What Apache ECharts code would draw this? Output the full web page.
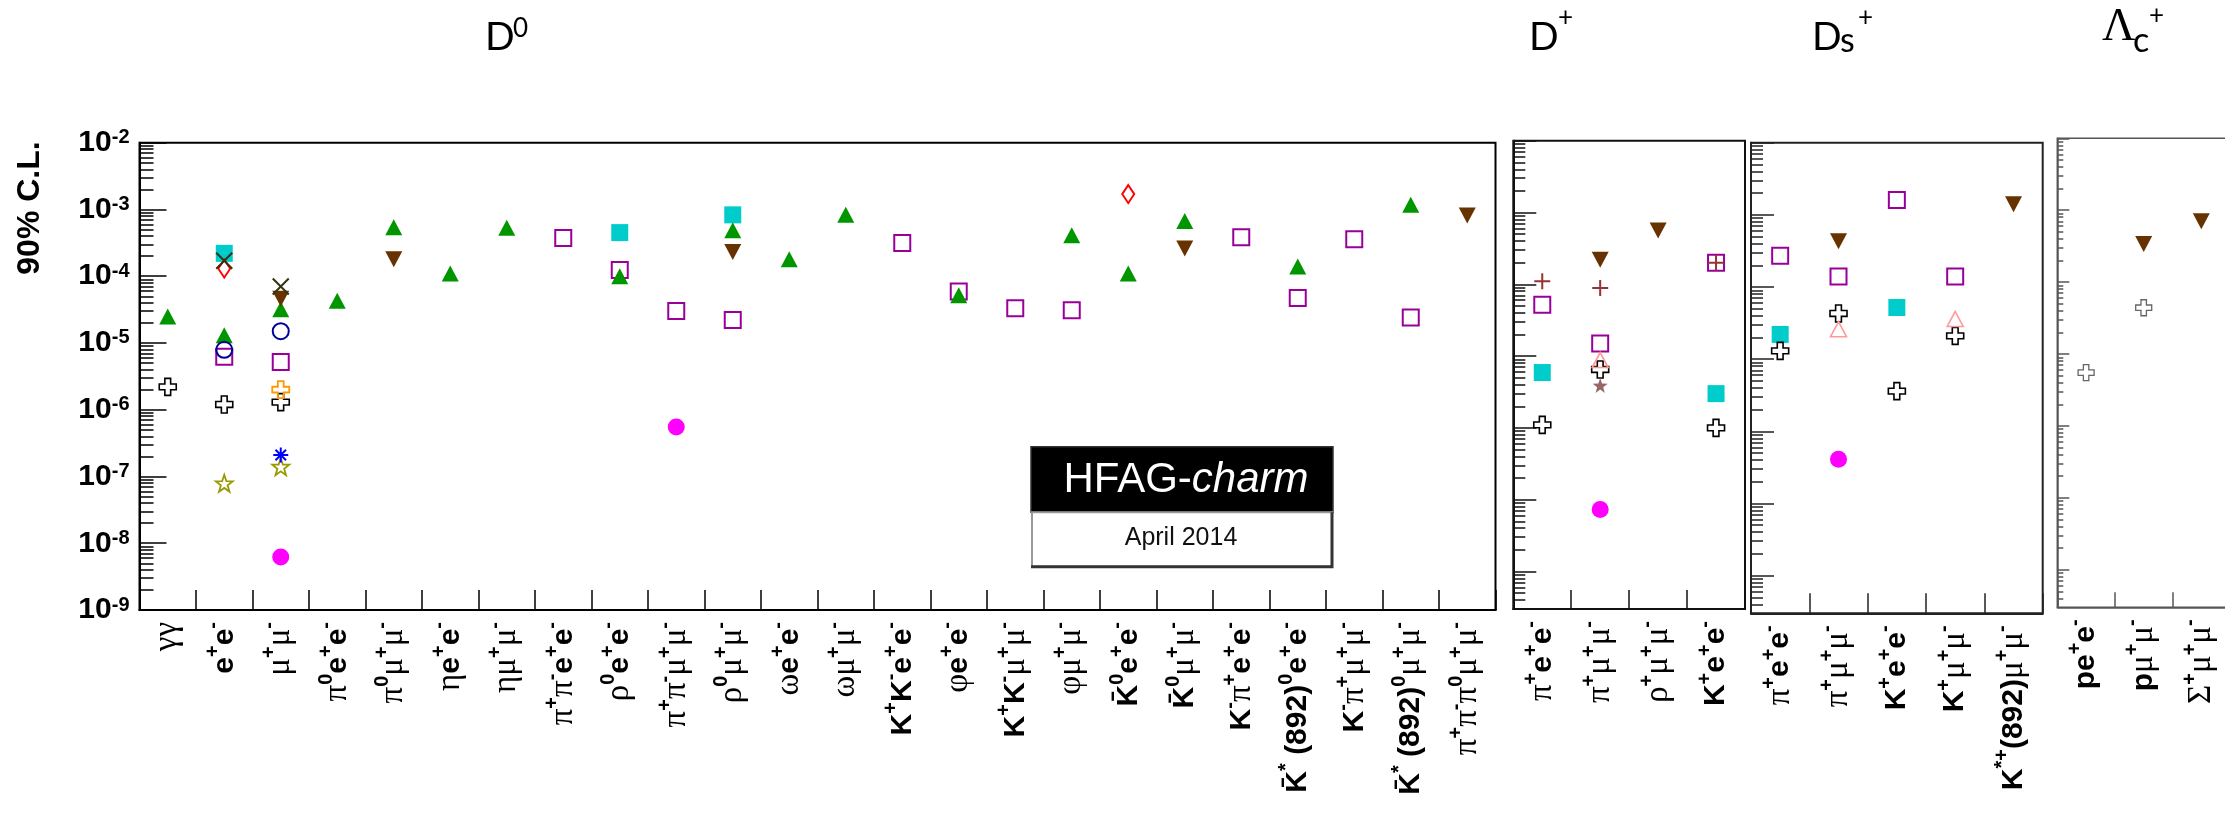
<!DOCTYPE html>
<html><head><meta charset="utf-8">
<script src="https://cdn.jsdelivr.net/npm/echarts@6/dist/echarts.min.js"></script>
<style>html,body{margin:0;padding:0;background:#fff}#c{width:2225px;height:819px}</style>
</head><body><div id="c"></div>
<script>
// ---------------- categories ----------------
const D0_CATS = ['γγ','e+e-','μ+μ-','π0e+e-','π0μ+μ-','ηe+e-','ημ+μ-','π+π-e+e-','ρ0e+e-','π+π-μ+μ-','ρ0μ+μ-','ωe+e-','ωμ+μ-','K+K-e+e-','φe+e-','K+K-μ+μ-','φμ+μ-','K̄0e+e-','K̄0μ+μ-','K-π+e+e-','K̄*0e+e-','K-π+μ+μ-','K̄*0μ+μ-','π+π-π0μ+μ-'];
const DP_CATS = ['π+e+e-','π+μ+μ-','ρ+μ+μ-','K+e+e-'];
const DS_CATS = ['π+e+e-','π+μ+μ-','K+e+e-','K+μ+μ-','K*+μ+μ-'];
const LC_CATS = ['pe+e-','pμ+μ-','Σ+μ+μ-'];

// rich-text tick labels (b = bold roman, g = greek, s = superscript)
const EE = '{b|e}{s|+}{b|e}{s|-}';
const MM = '{g|μ}{s|+}{g|μ}{s|-}';
const D0_LABELS = ['{g|γγ}', EE, MM, '{g|π}{s|0}'+EE, '{g|π}{s|0}'+MM, '{g|η}'+EE, '{g|η}'+MM,
  '{g|π}{s|+}{g|π}{s|-}'+EE, '{g|ρ}{s|0}'+EE, '{g|π}{s|+}{g|π}{s|-}'+MM, '{g|ρ}{s|0}'+MM,
  '{g|ω}'+EE, '{g|ω}'+MM, '{b|K}{s|+}{b|K}{s|-}'+EE, '{g|φ}'+EE, '{b|K}{s|+}{b|K}{s|-}'+MM, '{g|φ}'+MM,
  '{b|K̄}{s|0}'+EE, '{b|K̄}{s|0}'+MM, '{b|K}{s|-}{g|π}{s|+}'+EE, '{b|K̄}{s|*}{b| (892)}{s|0}'+EE,
  '{b|K}{s|-}{g|π}{s|+}'+MM, '{b|K̄}{s|*}{b| (892)}{s|0}'+MM, '{g|π}{s|+}{g|π}{s|-}{g|π}{s|0}'+MM];
const DP_LABELS = ['{g|π}{s|+}'+EE, '{g|π}{s|+}'+MM, '{g|ρ}{s|+}'+MM, '{b|K}{s|+}'+EE];
const DS_LABELS = ['{g|π}{s|+}'+EE, '{g|π}{s|+}'+MM, '{b|K}{s|+}'+EE, '{b|K}{s|+}'+MM, '{b|K}{s|*+}{b|(892)}'+MM];
const LC_LABELS = ['{b|pe}{s|+}{b|e}{s|-}', '{b|p}'+MM, '{g|Σ}{s|+}'+MM];

const Y_TITLE = '90% C.L.';
const Y_RANGE_D0 = [1e-9, 1e-2];
const Y_RANGE_SMALL = [3e-9, 1e-2];

// ---------------- values (90% C.L. upper limits) ----------------
// D0
const D0_TRI_GREEN = [['γγ',2.5e-5],['e+e-',1.3e-5],['μ+μ-',3.2e-5],['π0e+e-',4.3e-5],['π0μ+μ-',5.4e-4],['ηe+e-',1.1e-4],['ημ+μ-',5.3e-4],['ρ0e+e-',1.0e-4],['ρ0μ+μ-',4.9e-4],['ωe+e-',1.8e-4],['ωμ+μ-',8.3e-4],['φe+e-',5.2e-5],['φμ+μ-',4.1e-4],['K̄0e+e-',1.1e-4],['K̄0μ+μ-',6.7e-4],['K̄*0e+e-',1.4e-4],['K̄*0μ+μ-',1.18e-3]];
const D0_TRI_BROWN = [['μ+μ-',4.6e-5],['π0μ+μ-',1.8e-4],['ρ0μ+μ-',2.3e-4],['K̄0μ+μ-',2.6e-4],['π+π-π0μ+μ-',8.1e-4]];
const D0_SQ_PURPLE = [['e+e-',6.2e-6],['μ+μ-',5.2e-6],['π+π-e+e-',3.73e-4],['ρ0e+e-',1.24e-4],['π+π-μ+μ-',3.0e-5],['ρ0μ+μ-',2.2e-5],['K+K-e+e-',3.15e-4],['φe+e-',5.9e-5],['K+K-μ+μ-',3.3e-5],['φμ+μ-',3.1e-5],['K-π+e+e-',3.85e-4],['K̄*0e+e-',4.7e-5],['K-π+μ+μ-',3.59e-4],['K̄*0μ+μ-',2.4e-5]];
const D0_SQ_CYAN = [['e+e-',2.2e-4],['ρ0e+e-',4.5e-4],['ρ0μ+μ-',8.3e-4]];
const D0_CROSS_WHITE = [['γγ',2.2e-6],['e+e-',1.2e-6],['μ+μ-',1.3e-6]];
const D0_CROSS_ORANGE = [['μ+μ-',2.0e-6]];
const D0_CIRC_BLUE = [['e+e-',7.9e-6],['μ+μ-',1.5e-5]];
const D0_DOT_MAGENTA = [['μ+μ-',6.2e-9],['π+π-μ+μ-',5.5e-7]];
const D0_DIAM_RED = [['e+e-',1.3e-4],['K̄0e+e-',1.7e-3]];
const D0_X_DARK = [['e+e-',1.7e-4],['μ+μ-',7.0e-5]];
const D0_ASTER_BLUE = [['μ+μ-',2.1e-7]];
const D0_STAR_OLIVE = [['e+e-',7.9e-8],['μ+μ-',1.4e-7]];
// D+
const DP_PLUS_RED = [['π+e+e-',1.1e-4],['π+μ+μ-',8.9e-5],['K+e+e-',2.0e-4]];
const DP_SQ_PURPLE = [['π+e+e-',5.2e-5],['π+μ+μ-',1.5e-5],['K+e+e-',2.0e-4]];
const DP_SQ_CYAN = [['π+e+e-',5.9e-6],['K+e+e-',3.0e-6]];
const DP_CROSS_WHITE = [['π+e+e-',1.1e-6],['π+μ+μ-',6.5e-6],['K+e+e-',1.0e-6]];
const DP_TRI_BROWN = [['π+μ+μ-',2.2e-4],['ρ+μ+μ-',5.6e-4]];
const DP_TRI_PINK = [['π+μ+μ-',8.8e-6]];
const DP_STAR_BROWN = [['π+μ+μ-',3.9e-6]];
const DP_DOT_MAGENTA = [['π+μ+μ-',7.3e-8]];
// Ds+
const DS_SQ_PURPLE = [['π+e+e-',2.7e-4],['π+μ+μ-',1.4e-4],['K+e+e-',1.6e-3],['K+μ+μ-',1.4e-4]];
const DS_SQ_CYAN = [['π+e+e-',2.2e-5],['K+e+e-',5.2e-5]];
const DS_CROSS_WHITE = [['π+e+e-',1.3e-5],['π+μ+μ-',4.3e-5],['K+e+e-',3.6e-6],['K+μ+μ-',2.1e-5]];
const DS_TRI_BROWN = [['π+μ+μ-',4.3e-4],['K*+μ+μ-',1.4e-3]];
const DS_TRI_PINK = [['π+μ+μ-',2.6e-5],['K+μ+μ-',3.6e-5]];
const DS_DOT_MAGENTA = [['π+μ+μ-',4.1e-7]];
// Lambda_c+
const LC_CROSS_GREY = [['pe+e-',5.5e-6],['pμ+μ-',4.4e-5]];
const LC_TRI_BROWN = [['pμ+μ-',3.4e-4],['Σ+μ+μ-',7.0e-4]];

// ---------------- marker styles ----------------
const CROSS = 'path://M3.3,0H6.7V3.3H10V6.7H6.7V10H3.3V6.7H0V3.3H3.3Z';
const XMARK = 'path://M0,0L10,10M10,0L0,10';
const PLUS = 'path://M5,0V10M0,5H10';
const ASTER = 'path://M5,0V10M0,5H10M1.5,1.5L8.5,8.5M8.5,1.5L1.5,8.5';
const STAR = 'path://M5,0L6.18,3.38L9.76,3.45L6.9,5.62L7.94,9.05L5,7L2.06,9.05L3.1,5.62L0.24,3.45L3.82,3.38Z';
const NOFILL = 'rgba(0,0,0,0)';
const STYLES = {
  sqCyan:     {symbol:'rect', size:17, fill:'#00cccc'},
  sqPurple:   {symbol:'rect', size:16, fill:NOFILL, stroke:'#990099', lw:2},
  triGreen:   {symbol:'triangle', size:[17,16], fill:'#009600'},
  triBrown:   {symbol:'triangle', size:[17,16], rotate:180, fill:'#663300'},
  circBlue:   {symbol:'circle', size:16, fill:NOFILL, stroke:'#000099', lw:2},
  diamRed:    {symbol:'diamond', size:[12,18], fill:NOFILL, stroke:'#ff0000', lw:2},
  crossWhite: {symbol:CROSS, size:17, fill:NOFILL, stroke:'#000', lw:1.6},
  crossGrey:  {symbol:CROSS, size:16, fill:NOFILL, stroke:'#666', lw:1.3},
  crossOrange:{symbol:CROSS, size:17, fill:NOFILL, stroke:'#ff9900', lw:1.8},
  triPink:    {symbol:'triangle', size:[16,15], fill:NOFILL, stroke:'#ff9999', lw:1.6},
  starBrown:  {symbol:STAR, size:15, fill:'#996666'},
  dotMagenta: {symbol:'circle', size:17, fill:'#ff00ff'},
  starOlive:  {symbol:STAR, size:17, fill:NOFILL, stroke:'#999900', lw:1.8},
  asterBlue:  {symbol:ASTER, size:15, fill:NOFILL, stroke:'#0000ff', lw:2},
  plusRed:    {symbol:PLUS, size:16, fill:NOFILL, stroke:'#993333', lw:2},
  xDark:      {symbol:XMARK, size:16, fill:NOFILL, stroke:'#333311', lw:2}
};
const ORDER = ['sqCyan','sqPurple','triGreen','triBrown','circBlue','diamRed','crossWhite','crossGrey','crossOrange','triPink','starBrown','dotMagenta','starOlive','asterBlue','plusRed','xDark'];

const PANELS = [
  {cats:D0_CATS, labels:D0_LABELS, range:Y_RANGE_D0, grid:{left:139.5, top:142.7, width:1356, height:467.3},
   line:'#000', lineW:2, major:27, minor:14, xtick:20, ylabels:true,
   data:{triGreen:D0_TRI_GREEN, triBrown:D0_TRI_BROWN, sqPurple:D0_SQ_PURPLE, sqCyan:D0_SQ_CYAN, crossWhite:D0_CROSS_WHITE,
         crossOrange:D0_CROSS_ORANGE, circBlue:D0_CIRC_BLUE, dotMagenta:D0_DOT_MAGENTA, diamRed:D0_DIAM_RED, xDark:D0_X_DARK,
         asterBlue:D0_ASTER_BLUE, starOlive:D0_STAR_OLIVE}},
  {cats:DP_CATS, labels:DP_LABELS, range:Y_RANGE_SMALL, grid:{left:1513.3, top:140.7, width:231.7, height:468.3},
   line:'#111', lineW:2, major:23, minor:12, xtick:19, ylabels:false,
   data:{plusRed:DP_PLUS_RED, sqPurple:DP_SQ_PURPLE, sqCyan:DP_SQ_CYAN, crossWhite:DP_CROSS_WHITE, triBrown:DP_TRI_BROWN,
         triPink:DP_TRI_PINK, starBrown:DP_STAR_BROWN, dotMagenta:DP_DOT_MAGENTA}},
  {cats:DS_CATS, labels:DS_LABELS, range:Y_RANGE_SMALL, grid:{left:1751, top:142.7, width:291.7, height:470.6},
   line:'#222', lineW:2, major:23, minor:12, xtick:20, ylabels:false,
   data:{sqPurple:DS_SQ_PURPLE, sqCyan:DS_SQ_CYAN, crossWhite:DS_CROSS_WHITE, triBrown:DS_TRI_BROWN, triPink:DS_TRI_PINK,
         dotMagenta:DS_DOT_MAGENTA}},
  {cats:LC_CATS, labels:LC_LABELS, range:Y_RANGE_SMALL, grid:{left:2057.3, top:138.3, width:172.8, height:469},
   line:'#555', lineW:1.5, major:12, minor:6, xtick:15, ylabels:false,
   data:{crossGrey:LC_CROSS_GREY, triBrown:LC_TRI_BROWN}}
];

// ---------------- build option ----------------
function majorTicks(lo, hi){ const o=[]; for(let n=Math.ceil(lo-1e-9); n<=Math.floor(hi+1e-9); n++) o.push(n); return o; }
function minorTicks(lo, hi){ const o=[]; for(let n=Math.floor(lo); n<Math.ceil(hi); n++) for(let k=2;k<=9;k++){ const v=n+Math.log10(k); if(v>lo+1e-6 && v<hi-1e-6) o.push(v);} return o; }

const FONT_B = 'Liberation Sans, Arial, sans-serif';
const FONT_G = 'Liberation Serif, Times New Roman, serif';
const XRICH = {
  b:{fontFamily:FONT_B, fontWeight:'bold', fontSize:30, lineHeight:42, verticalAlign:'middle', color:'#000'},
  g:{fontFamily:FONT_G, fontSize:33, lineHeight:42, verticalAlign:'middle', color:'#000'},
  s:{fontFamily:FONT_B, fontWeight:'bold', fontSize:20, lineHeight:22, verticalAlign:'top', color:'#000'}
};
const YRICH = {
  m:{fontFamily:FONT_B, fontWeight:'bold', fontSize:30, lineHeight:30, padding:[10,0,0,0], verticalAlign:'bottom', color:'#000'},
  s:{fontFamily:FONT_B, fontWeight:'bold', fontSize:20, lineHeight:24, verticalAlign:'top', color:'#000'}
};

const grid=[], xAxis=[], yAxis=[], series=[];
PANELS.forEach((p, i) => {
  grid.push(Object.assign({show:true, borderColor:p.line, borderWidth:p.lineW, backgroundColor:'transparent', containLabel:false, outerBoundsMode:'none'}, p.grid));
  xAxis.push({type:'category', gridIndex:i, data:p.cats, boundaryGap:true,
    axisLine:{show:true, lineStyle:{color:p.line, width:p.lineW}},
    axisTick:{show:true, inside:true, length:p.xtick, lineStyle:{color:p.line, width:1.5}},
    axisLabel:{show:true, interval:0, rotate:90, margin:12, rich:XRICH,
      formatter:(v, idx) => p.labels[idx]},
    splitLine:{show:false}});
  const lo = Math.log10(p.range[0]), hi = Math.log10(p.range[1]);
  // data axis (logarithmic)
  yAxis.push({type:'log', logBase:10, gridIndex:i, min:p.range[0], max:p.range[1], position:'left', show:false});
  // major ticks / labels
  yAxis.push({type:'value', gridIndex:i, min:lo, max:hi, position:'left', offset:0,
    axisLine:{show:true, lineStyle:{color:p.line, width:p.lineW}},
    axisTick:{show:true, inside:true, length:p.major, customValues:majorTicks(lo,hi), lineStyle:{color:p.line, width:1.5}},
    axisLabel:{show:p.ylabels, margin:10, customValues:majorTicks(lo,hi), rich:YRICH,
      formatter:(v) => '{m|10}{s|' + Math.round(v) + '}'},
    splitLine:{show:false}});
  // minor ticks
  yAxis.push({type:'value', gridIndex:i, min:lo, max:hi, position:'left', offset:0,
    axisLine:{show:false},
    axisTick:{show:true, inside:true, length:p.minor, customValues:minorTicks(lo,hi), lineStyle:{color:p.line, width:1.5}},
    axisLabel:{show:false}, splitLine:{show:false}});
  ORDER.forEach(key => {
    const arr = p.data[key]; if(!arr) return;
    const s = STYLES[key];
    series.push({type:'scatter', name:key, xAxisIndex:i, yAxisIndex:3*i, data:arr.map(d => [d[0], d[1]]),
      symbol:s.symbol, symbolSize:s.size, symbolRotate:s.rotate||0, silent:true,
      itemStyle:{color:s.fill, borderColor:s.stroke||s.fill, borderWidth:s.lw||0, opacity:1}});
  });
});

const TFONT = 'Lato, Open Sans, sans-serif';
function t(text, x, y, size, family, extra){ return Object.assign({type:'text', x:x, y:y, z:100,
  style:{text:text, fontSize:size, fontFamily:family||TFONT, fill:'#000', align:'left', verticalAlign:'middle'}}, extra||{}); }

const graphic = [
  // panel titles
  t('D', 485, 37.5, 39), t('0', 513, 29, 26),
  t('D', 1529, 37.5, 39), t('+', 1558, 18, 26),
  t('D', 1812, 37.5, 39), t('s', 1840, 41, 34), t('+', 1858, 18, 26),
  t('Λ', 2102, 27.5, 46, FONT_G), t('c', 2133, 41, 34), t('+', 2149, 16, 26),
  // y-axis title
  {type:'text', x:30, y:208, rotation:Math.PI/2, z:100,
   style:{text:Y_TITLE, fontSize:32, fontWeight:'bold', fontFamily:FONT_B, fill:'#000', align:'center', verticalAlign:'middle'}},
  // HFAG logo
  {type:'rect', z:100, shape:{x:1031, y:446.7, width:302, height:65.6}, style:{fill:'#000', stroke:'#333', lineWidth:1.5}},
  {type:'rect', z:100, shape:{x:1032, y:512.3, width:300, height:54.4}, style:{fill:'#fff', stroke:'#999', lineWidth:2}},
  {type:'polyline', z:101, shape:{points:[[1332,512.3],[1332,566.7],[1031,566.7]]}, style:{stroke:'#333', lineWidth:3, fill:null}},
  {type:'text', x:1186, y:480, z:102, style:{text:'{n|HFAG-}{i|charm}', align:'center', verticalAlign:'middle',
    rich:{n:{fontSize:42, fontFamily:FONT_B, fill:'#fff'}, i:{fontSize:42, fontStyle:'italic', fontFamily:FONT_B, fill:'#fff'}}}},
  {type:'text', x:1181, y:538, z:102, style:{text:'April 2014', fontSize:25, fontFamily:FONT_B, fill:'#111', align:'center', verticalAlign:'middle'}}
];

const chart = echarts.init(document.getElementById('c'), null, {renderer:'canvas', width:2225, height:819});
chart.setOption({animation:false, backgroundColor:'#fff', grid, xAxis, yAxis, series, graphic, tooltip:{show:false}});
</script></body></html>
